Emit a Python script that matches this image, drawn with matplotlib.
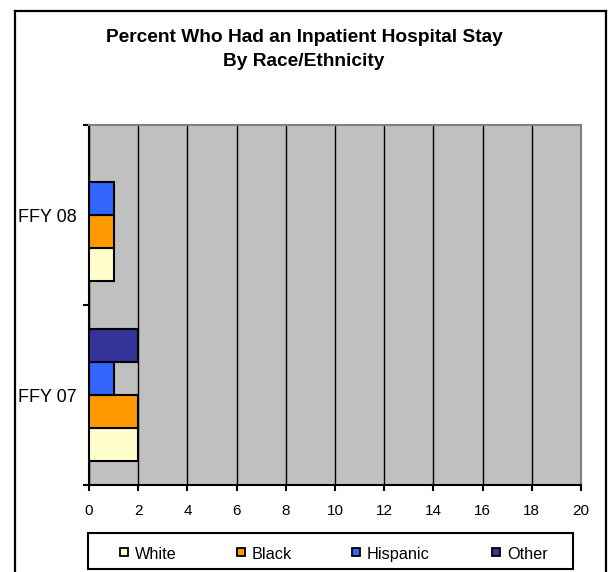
import matplotlib
matplotlib.use("Agg")
import numpy as np
import matplotlib.pyplot as plt
from matplotlib.patches import Rectangle
from matplotlib.lines import Line2D

plt.rcParams.update({"font.family": ["Liberation Sans", "DejaVu Sans"]})

years = ["FFY 07", "FFY 08"]
groups = ["White", "Black", "Hispanic", "Other"]
white = [2, 1]
black = [2, 1]
hispanic = [1, 1]
other = [2, np.nan]
colors = ["#FFFFCC", "#FF9900", "#3366FF", "#333399"]
xticks = list(range(0, 21, 2))

W, H = 608, 572
fig = plt.figure(figsize=(W / 100, H / 100), dpi=100)
ax = fig.add_axes([89 / W, 1 - 485 / H, (581 - 89) / W, (485 - 125) / H])
ax.set_facecolor("#C0C0C0")

bar_h = 0.183
y = np.arange(len(years))
for i, (vals, c) in enumerate(zip([white, black, hispanic, other], colors)):
    ax.barh(y + (i - 1.5) * bar_h, vals, height=bar_h, color=c,
            edgecolor="black", linewidth=1.5, zorder=3)

ax.set_xlim(0, 20)
ax.set_ylim(-0.5, 1.5)
ax.set_xticks(xticks)
ax.set_xticklabels([str(t) for t in xticks], fontsize=11)
ax.xaxis.grid(True, color="black", linewidth=1, zorder=1)
ax.set_axisbelow(True)

ax.set_yticks(y)
ax.set_yticklabels(years, fontsize=13)
ax.set_yticks([-0.5, 0.5, 1.5], minor=True)
ax.tick_params(axis="y", which="major", length=0, pad=9)
ax.tick_params(axis="y", which="minor", length=4, width=1.5, direction="out")
ax.tick_params(axis="x", length=4.5, width=1.5, direction="out", pad=9)

for s in ("top", "right"):
    ax.spines[s].set_color("#808080")
    ax.spines[s].set_linewidth(1.5)
for s in ("left", "bottom"):
    ax.spines[s].set_linewidth(1.5)
    ax.spines[s].set_color("black")

fig.text(0.5, 1 - 38 / H, "Percent Who Had an Inpatient Hospital Stay",
         ha="center", va="center", fontsize=13.8, fontweight="bold")
fig.text(0.5, 1 - 62 / H, "By Race/Ethnicity",
         ha="center", va="center", fontsize=13.8, fontweight="bold")

# outer chart frame (bottom edge runs past the image)
for xs, ys in [([15, 15], [11, 580]), ([15, 606], [11, 11]), ([606, 606], [11, 580])]:
    fig.add_artist(Line2D([x / W for x in xs], [1 - v / H for v in ys],
                          color="black", linewidth=1.6, transform=fig.transFigure))

# legend: box, small square swatches and labels on a shared baseline
fig.add_artist(Rectangle((88 / W, 1 - 569 / H), 485 / W, 36 / H, fill=False,
                         edgecolor="black", linewidth=1.5, transform=fig.transFigure))
key_x = [120, 237, 352, 492]
for x0, name, c in zip(key_x, groups, colors):
    fig.add_artist(Rectangle((x0 / W, 1 - 556 / H), 8 / W, 8 / H, facecolor=c,
                             edgecolor="black", linewidth=1.3,
                             transform=fig.transFigure))
    fig.text((x0 + 15) / W, 1 - 559 / H, name, ha="left", va="baseline",
             fontsize=11.7)

fig.savefig("out.png", dpi=100, facecolor="white")
